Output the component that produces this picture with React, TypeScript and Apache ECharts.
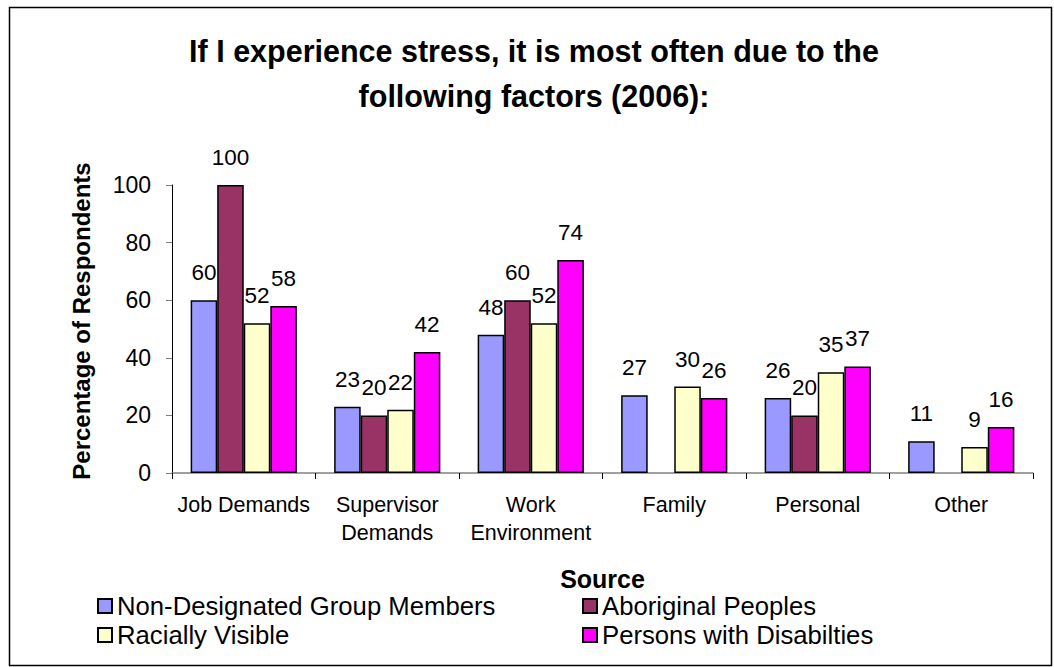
import React, { useEffect, useRef } from "react";
import * as echarts from "echarts";

const categories = ["Job Demands", "Supervisor\nDemands", "Work\nEnvironment", "Family", "Personal", "Other"];
const nonDesignated = [60, 23, 48, 27, 26, 11];
const aboriginal = [100, 20, 60, null, 20, null];
const raciallyVisible = [52, 22, 52, 30, 35, 9];
const disabilities = [58, 42, 74, 26, 37, 16];
const seriesNames = [
  "Non-Designated Group Members",
  "Aboriginal Peoples",
  "Racially Visible",
  "Persons with Disabilties",
];
const colors = ["#9999FF", "#993366", "#FFFFCC", "#FF00FF"];
const yAxisTitle = "Percentage of Respondents";

const FONT = "'Liberation Sans', Arial, sans-serif";

export default function App() {
  const ref = useRef<HTMLDivElement>(null);
  useEffect(() => {
    if (!ref.current) return;
    const chart = echarts.init(ref.current, undefined, { renderer: "svg" });
    const values = [nonDesignated, aboriginal, raciallyVisible, disabilities];
    const legendCommon = {
      orient: "vertical",
      icon: "rect",
      itemWidth: 14,
      itemHeight: 14,
      itemGap: 3,
      textStyle: { fontFamily: FONT, fontSize: 25.7, color: "#000" },
      selectedMode: false,
    };
    chart.setOption({
      animation: false,
      backgroundColor: "#fff",
      textStyle: { fontFamily: FONT },
      title: {
        text: "If I experience stress, it is most often due to the\nfollowing factors (2006):",
        left: 529,
        top: 23,
        textAlign: "center",
        textStyle: { fontFamily: FONT, fontSize: 30.5, fontWeight: "bold", color: "#000", lineHeight: 45 },
      },
      legend: [
        { ...legendCommon, data: [seriesNames[0], seriesNames[2]], left: 92, top: 588 },
        { ...legendCommon, data: [seriesNames[1], seriesNames[3]], left: 577, top: 588 },
      ],
      grid: { left: 172, right: 21, top: 185, bottom: 194, containLabel: false },
      xAxis: {
        type: "category",
        data: categories,
        name: "Source",
        nameLocation: "middle",
        nameGap: 93,
        nameTextStyle: { fontFamily: FONT, fontSize: 25, fontWeight: "bold", color: "#000" },
        axisLine: { lineStyle: { color: "#808080", width: 1.5 } },
        axisTick: { show: true, length: 6, lineStyle: { color: "#000" } },
        axisLabel: { fontFamily: FONT, fontSize: 21.5, color: "#000", margin: 18, lineHeight: 28, interval: 0 },
      },
      yAxis: {
        type: "value",
        min: 0,
        max: 100,
        interval: 20,
        splitLine: { show: false },
        axisLine: { show: true, lineStyle: { color: "#000", width: 1 } },
        axisTick: { show: true, length: 6, lineStyle: { color: "#808080" } },
        axisLabel: { fontFamily: FONT, fontSize: 23, color: "#000", margin: 21 },
      },
      series: values.map((v, i) => ({
        type: "bar",
        name: seriesNames[i],
        data: v,
        barGap: "0%",
        barCategoryGap: "26%",
        itemStyle: { color: colors[i], borderColor: "#000", borderWidth: 1.5 },
        label: {
          show: true,
          position: "top",
          distance: 16,
          fontFamily: FONT,
          fontSize: 22.5,
          color: "#000",
        },
      })),
      graphic: [
        {
          type: "text",
          x: 81,
          y: 321,
          rotation: Math.PI / 2,
          style: {
            text: yAxisTitle,
            fontFamily: FONT,
            fontSize: 24,
            fontWeight: "bold",
            fill: "#000",
            align: "center",
            verticalAlign: "middle",
          },
          silent: true,
        },
        {
          type: "rect",
          shape: { x: 9.5, y: 7.5, width: 1042, height: 658 },
          style: { fill: "none", stroke: "#000", lineWidth: 1.5 },
          silent: true,
          z: 100,
        },
      ],
    });
    return () => chart.dispose();
  }, []);
  return (
    <div
      ref={ref}
      style={{ position: "fixed", left: 0, top: 0, width: 1054, height: 667 }}
    />
  );
}
